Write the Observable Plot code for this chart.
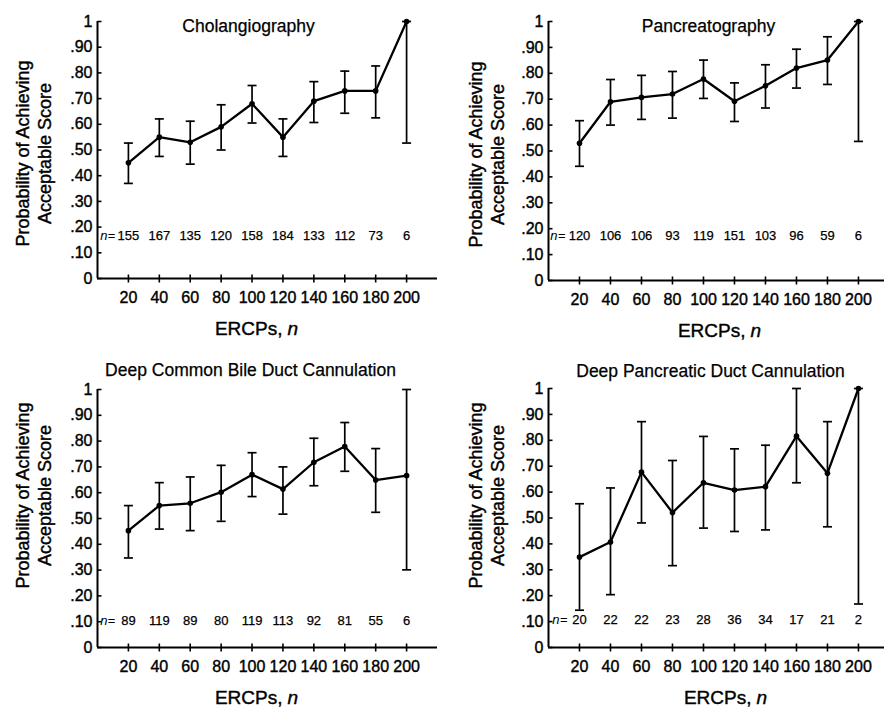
<!DOCTYPE html>
<html><head><meta charset="utf-8">
<script src="https://cdn.jsdelivr.net/npm/d3@7"></script>
<script src="https://cdn.jsdelivr.net/npm/@observablehq/plot@0.6"></script>
<style>
body{margin:0;background:#fff;}
#wrap{position:relative;width:884px;height:707px;overflow:hidden;background:#fff;}
.panel{position:absolute;}
</style></head><body><div id="wrap"></div>
<script>
// ---- data ----
const ercps = [20, 40, 60, 80, 100, 120, 140, 160, 180, 200];
const yTicks = [0, 0.1, 0.2, 0.3, 0.4, 0.5, 0.6, 0.7, 0.8, 0.9, 1];
const yTickLabels = ["0", ".10", ".20", ".30", ".40", ".50", ".60", ".70", ".80", ".90", "1"];
const panelTitles = ["Cholangiography", "Pancreatography", "Deep Common Bile Duct Cannulation", "Deep Pancreatic Duct Cannulation"];
const yLabel = "Probability of Achieving\nAcceptable Score";
const xLabelText = "ERCPs,";
const xLabelVar = "n";

const cholP  = [0.45, 0.55, 0.53, 0.59, 0.68, 0.55, 0.69, 0.73, 0.73, 1.0];
const cholLo = [0.37, 0.475, 0.445, 0.50, 0.605, 0.475, 0.607, 0.643, 0.625, 0.527];
const cholHi = [0.527, 0.621, 0.612, 0.676, 0.751, 0.621, 0.766, 0.807, 0.827, 1.0];
const cholN  = [155, 167, 135, 120, 158, 184, 133, 112, 73, 6];

const pancP  = [0.53, 0.69, 0.707, 0.72, 0.778, 0.692, 0.752, 0.82, 0.851, 1.0];
const pancLo = [0.441, 0.60, 0.622, 0.627, 0.703, 0.614, 0.666, 0.743, 0.757, 0.537];
const pancHi = [0.617, 0.776, 0.792, 0.807, 0.851, 0.763, 0.833, 0.893, 0.941, 1.0];
const pancN  = [120, 106, 106, 93, 119, 151, 103, 96, 59, 6];

const cbdP  = [0.453, 0.55, 0.559, 0.602, 0.67, 0.614, 0.718, 0.779, 0.649, 0.666];
const cbdLo = [0.347, 0.459, 0.453, 0.489, 0.585, 0.517, 0.627, 0.683, 0.524, 0.301];
const cbdHi = [0.55, 0.639, 0.661, 0.706, 0.755, 0.70, 0.811, 0.872, 0.771, 1.0];
const cbdN  = [89, 119, 89, 80, 119, 113, 92, 81, 55, 6];

const pdP  = [0.349, 0.407, 0.677, 0.521, 0.636, 0.608, 0.621, 0.816, 0.673, 1.0];
const pdLo = [0.144, 0.204, 0.481, 0.316, 0.461, 0.448, 0.454, 0.636, 0.466, 0.168];
const pdHi = [0.555, 0.616, 0.872, 0.722, 0.815, 0.767, 0.781, 1.0, 0.872, 1.0];
const pdN  = [20, 22, 22, 23, 28, 36, 34, 17, 21, 2];

// ---- drawing ----
const capSym = {draw(ctx) { ctx.moveTo(-4.5, 0); ctx.lineTo(4.5, 0); }};
const xTickSym = {draw(ctx) { ctx.moveTo(0, -4); ctx.lineTo(0, 4); }};
const yTickSym = {draw(ctx) { ctx.moveTo(0, 0); ctx.lineTo(4, 0); }};
const mainFont = "'Liberation Sans', Arial, Helvetica, sans-serif";
const narrowFont = "'Liberation Sans Narrow', 'Arial Narrow', 'Liberation Sans', Arial, sans-serif";
const heavy = {fill: "#000", stroke: "#000", strokeWidth: 0.4};

function panel(cfg) {
  const rows = ercps.map((x, i) => ({x, p: cfg.p[i], lo: cfg.lo[i], hi: cfg.hi[i], n: cfg.n[i]}));
  return Plot.plot({
    width: 442, height: cfg.h,
    marginLeft: cfg.mL, marginRight: cfg.mR, marginTop: cfg.mT, marginBottom: cfg.mB,
    style: {fontFamily: mainFont, background: "transparent", color: "#000", overflow: "visible"},
    x: {domain: [0, cfg.xMax]},
    y: {domain: [0, 1]},
    marks: [
      Plot.ruleX([0], {stroke: "#000", strokeWidth: 2}),
      Plot.ruleY([0], {stroke: "#000", strokeWidth: 2}),
      Plot.dot(ercps, {x: d => d, frameAnchor: "bottom", symbol: xTickSym, stroke: "#000", strokeWidth: 1.6, fill: "none"}),
      Plot.dot(yTicks, {y: d => d, frameAnchor: "left", symbol: yTickSym, stroke: "#000", strokeWidth: 1.6, fill: "none"}),
      Plot.axisX({ticks: ercps, tickSize: 0, tickPadding: 13, fontSize: 16, fontFamily: narrowFont, label: null,
        textStroke: "#000", textStrokeWidth: 0.4}),
      Plot.axisY({ticks: yTicks, tickSize: 0, tickPadding: 5, fontSize: 16, fontFamily: narrowFont, label: null,
        textStroke: "#000", textStrokeWidth: 0.4,
        tickFormat: d => yTickLabels[yTicks.indexOf(d)]}),
      Plot.ruleX(rows, {x: "x", y1: "lo", y2: "hi", stroke: "#000", strokeWidth: 1.7}),
      Plot.dot(rows, {x: "x", y: "hi", symbol: capSym, stroke: "#000", strokeWidth: 1.7, fill: "none"}),
      Plot.dot(rows, {x: "x", y: "lo", symbol: capSym, stroke: "#000", strokeWidth: 1.7, fill: "none"}),
      Plot.line(rows, {x: "x", y: "p", stroke: "#000", strokeWidth: 2.3}),
      Plot.dot(rows, {x: "x", y: "p", r: 2.8, fill: "#000"}),
      Plot.text(rows, {x: "x", text: d => String(d.n), frameAnchor: "bottom", dy: cfg.nDy, fontSize: 13, ...heavy, strokeWidth: 0.25}),
      Plot.text(rows.slice(0, 1), {x: "x", text: () => "=", frameAnchor: "bottom", dy: cfg.nDy, dx: cfg.eqDx, textAnchor: "end", fontSize: 13, fill: "#000"}),
      Plot.text(rows.slice(0, 1), {x: "x", text: () => "n", frameAnchor: "bottom", dy: cfg.nDy, dx: cfg.eqDx - 8, textAnchor: "end", fontSize: 13, fontStyle: "italic", fill: "#000"}),
      Plot.text([cfg.title], {text: d => d, frameAnchor: "top-left", dx: cfg.tDx, dy: cfg.tDy, textAnchor: "middle", lineAnchor: "middle", fontSize: 17.5, ...heavy, strokeWidth: 0.25}),
      Plot.text([yLabel], {text: d => d, frameAnchor: "top-left", dx: cfg.yDx, dy: cfg.yDy, rotate: -90, textAnchor: "middle", lineAnchor: "middle", fontSize: 18, lineHeight: 1.22, ...heavy}),
      Plot.text([xLabelText], {text: d => d, frameAnchor: "bottom-left", dx: cfg.xlA, dy: 50, textAnchor: "end", lineAnchor: "middle", fontSize: 19, ...heavy}),
      Plot.text([xLabelVar], {text: d => d, frameAnchor: "bottom-left", dx: cfg.xlB, dy: 50, textAnchor: "start", lineAnchor: "middle", fontSize: 19, fontStyle: "italic", ...heavy})
    ]
  });
}

const configs = [
  {left: 0, top: 0, h: 340, mL: 97, mR: 5, mT: 21, mB: 62, xMax: 220, title: panelTitles[0],
   p: cholP, lo: cholLo, hi: cholHi, n: cholN, nDy: -39, eqDx: -13, tDx: 151, tDy: 5, yDx: -65, yDy: 132, xlA: 185, xlB: 190},
  {left: 442, top: 0, h: 340, mL: 106, mR: 0, mT: 21, mB: 60, xMax: 216.8, title: panelTitles[1],
   p: pancP, lo: pancLo, hi: pancHi, n: pancN, nDy: -41, eqDx: -14, tDx: 160, tDy: 5, yDx: -63, yDy: 133, xlA: 197, xlB: 202},
  {left: 0, top: 340, h: 367, mL: 97, mR: 5, mT: 49, mB: 60, xMax: 220, title: panelTitles[2],
   p: cbdP, lo: cbdLo, hi: cbdHi, n: cbdN, nDy: -23, eqDx: -13, tDx: 153, tDy: -19, yDx: -65, yDy: 106, xlA: 185, xlB: 190},
  {left: 442, top: 340, h: 367, mL: 106, mR: 0, mT: 48, mB: 60, xMax: 216.8, title: panelTitles[3],
   p: pdP, lo: pdLo, hi: pdHi, n: pdN, nDy: -24, eqDx: -12, tDx: 162, tDy: -17, yDx: -63, yDy: 107, xlA: 203, xlB: 208}
];

const wrap = document.getElementById("wrap");
for (const cfg of configs) {
  const div = document.createElement("div");
  div.className = "panel";
  div.style.left = cfg.left + "px";
  div.style.top = cfg.top + "px";
  div.appendChild(panel(cfg));
  wrap.appendChild(div);
}
</script>
</body></html>
